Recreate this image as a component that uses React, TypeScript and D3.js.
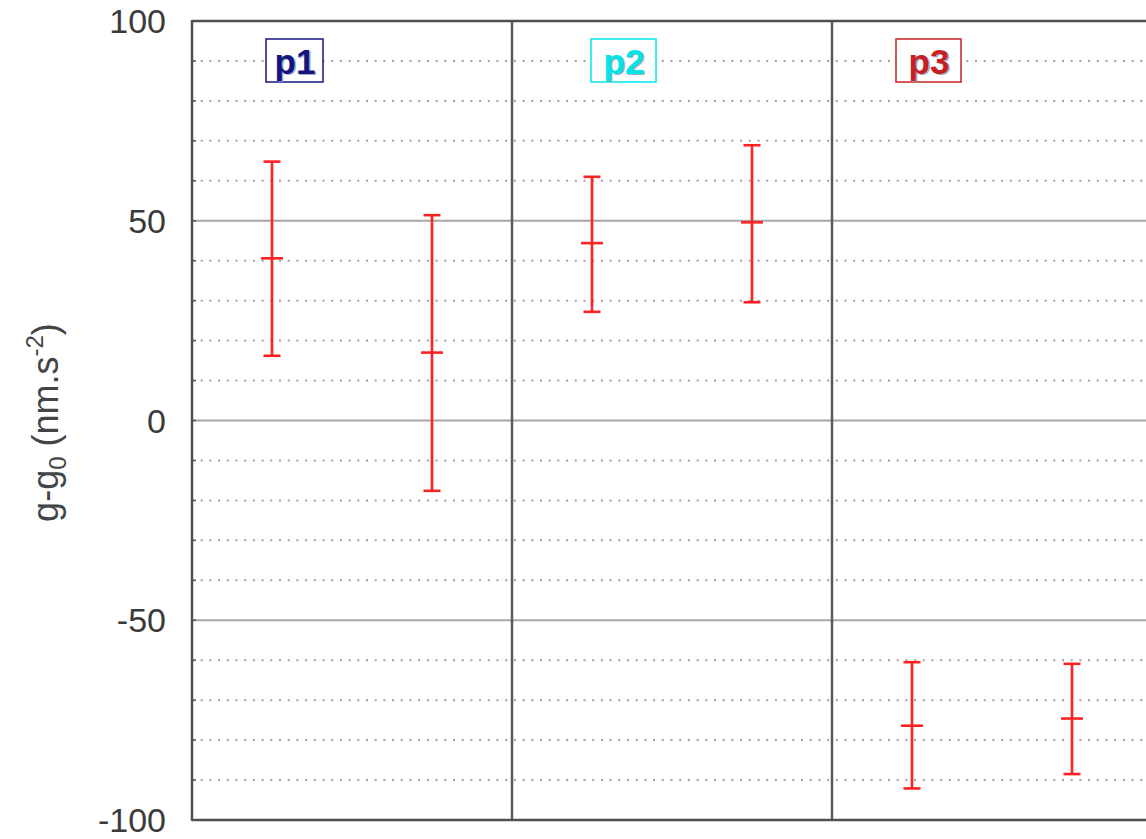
import React from "react";
import * as d3 from "d3";

const panels = ["p1", "p2", "p3"];
const panelColors = ["#15157f", "#00e6e6", "#c82020"];
const categories = ["p1-a", "p1-b", "p2-a", "p2-b", "p3-a", "p3-b"];
const centerValues = [40.6, 17.0, 44.4, 49.6, -76.4, -74.6];
const upperValues = [64.8, 51.4, 61.0, 68.9, -60.5, -60.9];
const lowerValues = [16.2, -17.6, 27.2, 29.6, -92.1, -88.5];
const yTickLabels = [100, 50, 0, -50, -100];
const solidGrid = [50, 0, -50];
const dottedGrid = [90, 80, 70, 60, 40, 30, 20, 10, -10, -20, -30, -40, -60, -70, -80, -90];

const W = 1146;
const H = 839;
const M = { left: 192, top: 21, right: 1152, bottom: 820 };

export default function App() {
  const x = d3.scaleBand<string>().domain(categories).range([M.left, M.right]).padding(0);
  const y = d3.scaleLinear().domain([-100, 100]).range([M.bottom, M.top]);
  const bw = x.bandwidth();
  const font = "'Liberation Sans', Arial, Helvetica, sans-serif";
  const labelOffsets = [23, 32, 17];
  const capHalf = 8.5;
  const midHalf = 11;

  return (
    <svg width={W} height={H} style={{ position: "absolute", left: 0, top: 0, background: "#fff" }}>
      {dottedGrid.map((v) => (
        <line key={"d" + v} x1={M.left} x2={M.right} y1={y(v)} y2={y(v)} stroke="#a0a0a0" strokeWidth={2} strokeDasharray="2 6.7" />
      ))}
      {solidGrid.map((v) => (
        <line key={"s" + v} x1={M.left} x2={M.right} y1={y(v)} y2={y(v)} stroke="#a6a6a6" strokeWidth={2.2} />
      ))}
      {d3.range(-90, 100, 10).map((v) => (
        <line key={"t" + v} x1={M.left} x2={M.left + 4} y1={y(v)} y2={y(v)} stroke="#555" strokeWidth={1.5} />
      ))}
      {[2, 4].map((i) => (
        <line key={"p" + i} x1={x(categories[i])!} x2={x(categories[i])!} y1={M.top} y2={M.bottom} stroke="#5a5a5a" strokeWidth={2.5} />
      ))}
      <line x1={M.left} x2={M.left} y1={M.top - 1} y2={M.bottom + 1} stroke="#505050" strokeWidth={2.5} />
      <line x1={M.left} x2={M.right} y1={M.top} y2={M.top} stroke="#505050" strokeWidth={2.5} />
      <line x1={M.left} x2={M.right} y1={M.bottom} y2={M.bottom} stroke="#505050" strokeWidth={2.5} />
      {yTickLabels.map((v) => (
        <text key={"l" + v} x={M.left - 26} y={y(v)} dy="0.36em" textAnchor="end" fontFamily={font} fontSize={34} fill="#3a3a3a">
          {v}
        </text>
      ))}
      <text transform={`translate(58, ${y(0) + 2}) rotate(-90)`} textAnchor="middle" fontFamily={font} fontSize={36} fill="#444">
        g-g<tspan fontSize={24} dy={8}>0</tspan>
        <tspan dy={-8}> (nm.s</tspan>
        <tspan fontSize={24} dy={-15}>-2</tspan>
        <tspan dy={15}>)</tspan>
      </text>
      {panels.map((p, i) => {
        const cx = x(categories[i * 2])! + bw / 2 + labelOffsets[i];
        const col = panelColors[i];
        return (
          <g key={p}>
            <rect x={cx - 29} y={39} width={i === 0 ? 57 : 65} height={43} fill="#fff" stroke={col} strokeWidth={1.5} transform={i === 0 ? "" : "translate(-4,0)"} />
            <text x={cx + 1.5} y={75} textAnchor="middle" fontFamily={font} fontWeight="bold" fontSize={35} fill="#8a9ab8" opacity={0.8}>
              {p}
            </text>
            <text x={cx} y={73.5} textAnchor="middle" fontFamily={font} fontWeight="bold" fontSize={35} fill={col}>
              {p}
            </text>
          </g>
        );
      })}
      {categories.map((c, i) => {
        const cx = x(c)! + bw / 2;
        return (
          <g key={c} stroke="#ff2222" strokeWidth={2.6}>
            <line x1={cx} x2={cx} y1={y(upperValues[i])} y2={y(lowerValues[i])} />
            <line x1={cx - capHalf} x2={cx + capHalf} y1={y(upperValues[i])} y2={y(upperValues[i])} />
            <line x1={cx - capHalf} x2={cx + capHalf} y1={y(lowerValues[i])} y2={y(lowerValues[i])} />
            <line x1={cx - midHalf} x2={cx + midHalf} y1={y(centerValues[i])} y2={y(centerValues[i])} />
          </g>
        );
      })}
    </svg>
  );
}
